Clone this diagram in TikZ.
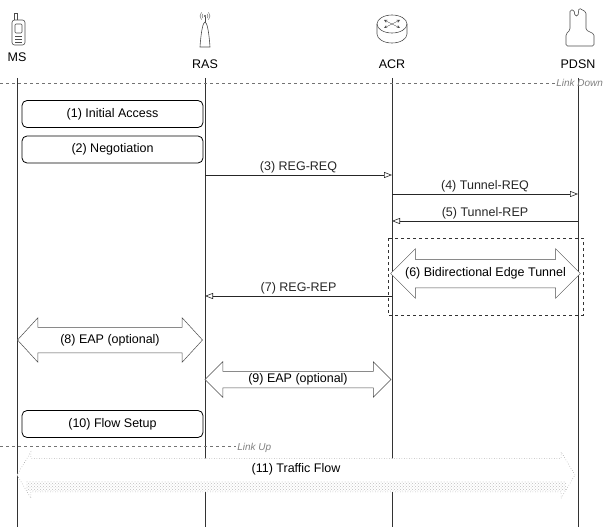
\documentclass[tikz,border=0pt]{standalone}
\usepackage{fontspec}
\setmainfont{Liberation Sans}
\usetikzlibrary{arrows.meta,shapes.arrows,patterns}
\begin{document}
\begin{tikzpicture}[x=1pt,y=-1pt,>=stealth,
    font=\fontsize{12.5}{15}\selectfont,
    icon/.style={black!70,line width=.6pt},
    life/.style={black!80,line width=.8pt},
    msg/.style={black!85,line width=.6pt,-{Triangle[open,length=8pt,width=6pt]}},
    stepbox/.style={draw,rounded corners=5pt,line width=.8pt,minimum width=181pt,minimum height=27pt,inner sep=0pt},
    link/.style={black!55,dashed,line width=.5pt},
    linktext/.style={black!50,inner sep=1pt,font=\fontsize{10}{12}\selectfont\itshape},
    bigarrow/.style={double arrow,draw=black!70,fill=white,line width=.5pt,inner xsep=0pt,
        text height=9pt,text depth=3pt}]
\useasboundingbox (0,0) rectangle (605,527);
% entities and lifelines
\foreach \n/\x/\y/\t in {ms/17/57/MS,ras/205/64/RAS,acr/392/64/ACR,pdsn/578/64/PDSN}{
    \node (\n) at (\x,\y) {\t};
    \coordinate (\n-top) at (\x,78);
    \coordinate (\n-bot) at (\x,527);
    \draw[life] (\n-top) -- (\n-bot);
}
% icons
\draw[icon,rounded corners=2.5pt] (12,20) rectangle (25,45);
\draw[icon] (14,20) -- (14,13) -- (17,13) -- (17,20);
\draw[icon,rounded corners=1pt] (15,24) rectangle (22,33);
\draw[icon] (15,36) -- (22,36) (15,39) -- (22,39) (15,42) -- (22,42);
\draw[icon] (200,47) .. controls (201,32) and (203,22) .. (205,22) .. controls (207,22) and (209,32) .. (210,47) -- cycle;
\fill[icon] (205,16) circle (1.2pt);
\draw[icon] (205,17) -- (205,22);
\foreach \r in {3,5}{
    \draw[icon,line width=.4pt] (205,16) ++(135:\r) arc[start angle=135,end angle=225,radius=\r];
    \draw[icon,line width=.4pt] (205,16) ++(-45:\r) arc[start angle=-45,end angle=45,radius=\r];
}
\draw[icon] (377,24) -- (377,34) arc[start angle=180,end angle=0,x radius=15,y radius=9] -- (407,24);
\draw[icon] (392,24) ellipse [x radius=15,y radius=9];
\draw[icon,<->,line width=.4pt] (384,20) -- (400,28);
\draw[icon,<->,line width=.4pt] (384,28) -- (400,20);
\draw[icon,rounded corners=1.5pt] (570,30) -- (570,10) -- (574,10) -- (575,16) -- (578,16) -- (579,8)
    -- (586,12) -- (586,30) -- (594,34) -- (594,46) -- (566,46) -- (566,34) -- cycle;
% link state
\draw[link] (0,83) -- (555,83) node[linktext,right]{Link Down};
\draw[link] (0,446) -- (236,446) node[linktext,right,yshift=-2pt]{Link Up};
% steps
\node[stepbox] (init) at (112.5,114) {(1) Initial Access};
\node[stepbox] (nego) at (112.5,149.5) {(2) Negotiation};
\node[stepbox] (flow) at (112.5,424) {(10) Flow Setup};
\draw[msg] (ras-top |- 0,175) -- node[above,inner sep=2pt]{(3) REG-REQ} (acr-top |- 0,175);
\draw[msg] (acr-top |- 0,194) -- node[above,inner sep=2pt]{(4) Tunnel-REQ} (pdsn-top |- 0,194);
\draw[msg] (pdsn-top |- 0,221) -- node[above,inner sep=2pt]{(5) Tunnel-REP} (acr-top |- 0,221);
\draw[dashed,black!80,line width=.6pt] (388,238) rectangle (583,315);
\node[bigarrow,minimum height=187pt,inner ysep=8pt,double arrow head extend=10.5pt] (tun) at (485.5,273.5) {(6) Bidirectional Edge Tunnel};
\draw[msg] (acr-top |- 0,296) -- node[above,inner sep=2pt]{(7) REG-REP} (ras-top |- 0,296);
\node[bigarrow,minimum height=185pt,inner ysep=6.5pt,double arrow head extend=9.5pt,double arrow tip angle=95] (eap1) at (110,340) {(8) EAP (optional)};
\node[bigarrow,minimum height=186pt,inner ysep=2pt,double arrow head extend=9.5pt] (eap2) at (298,379.5) {(9) EAP (optional)};
\node[bigarrow,draw=black!45,dotted,minimum height=558pt,text depth=15pt,inner ysep=4.5pt,
    double arrow head extend=6.5pt,double arrow tip angle=118] (traffic) at (296,475) {(11) Traffic Flow};
\fill[pattern=crosshatch dots,pattern color=black!25] (26,481) rectangle (566,490);
\end{tikzpicture}
\end{document}
